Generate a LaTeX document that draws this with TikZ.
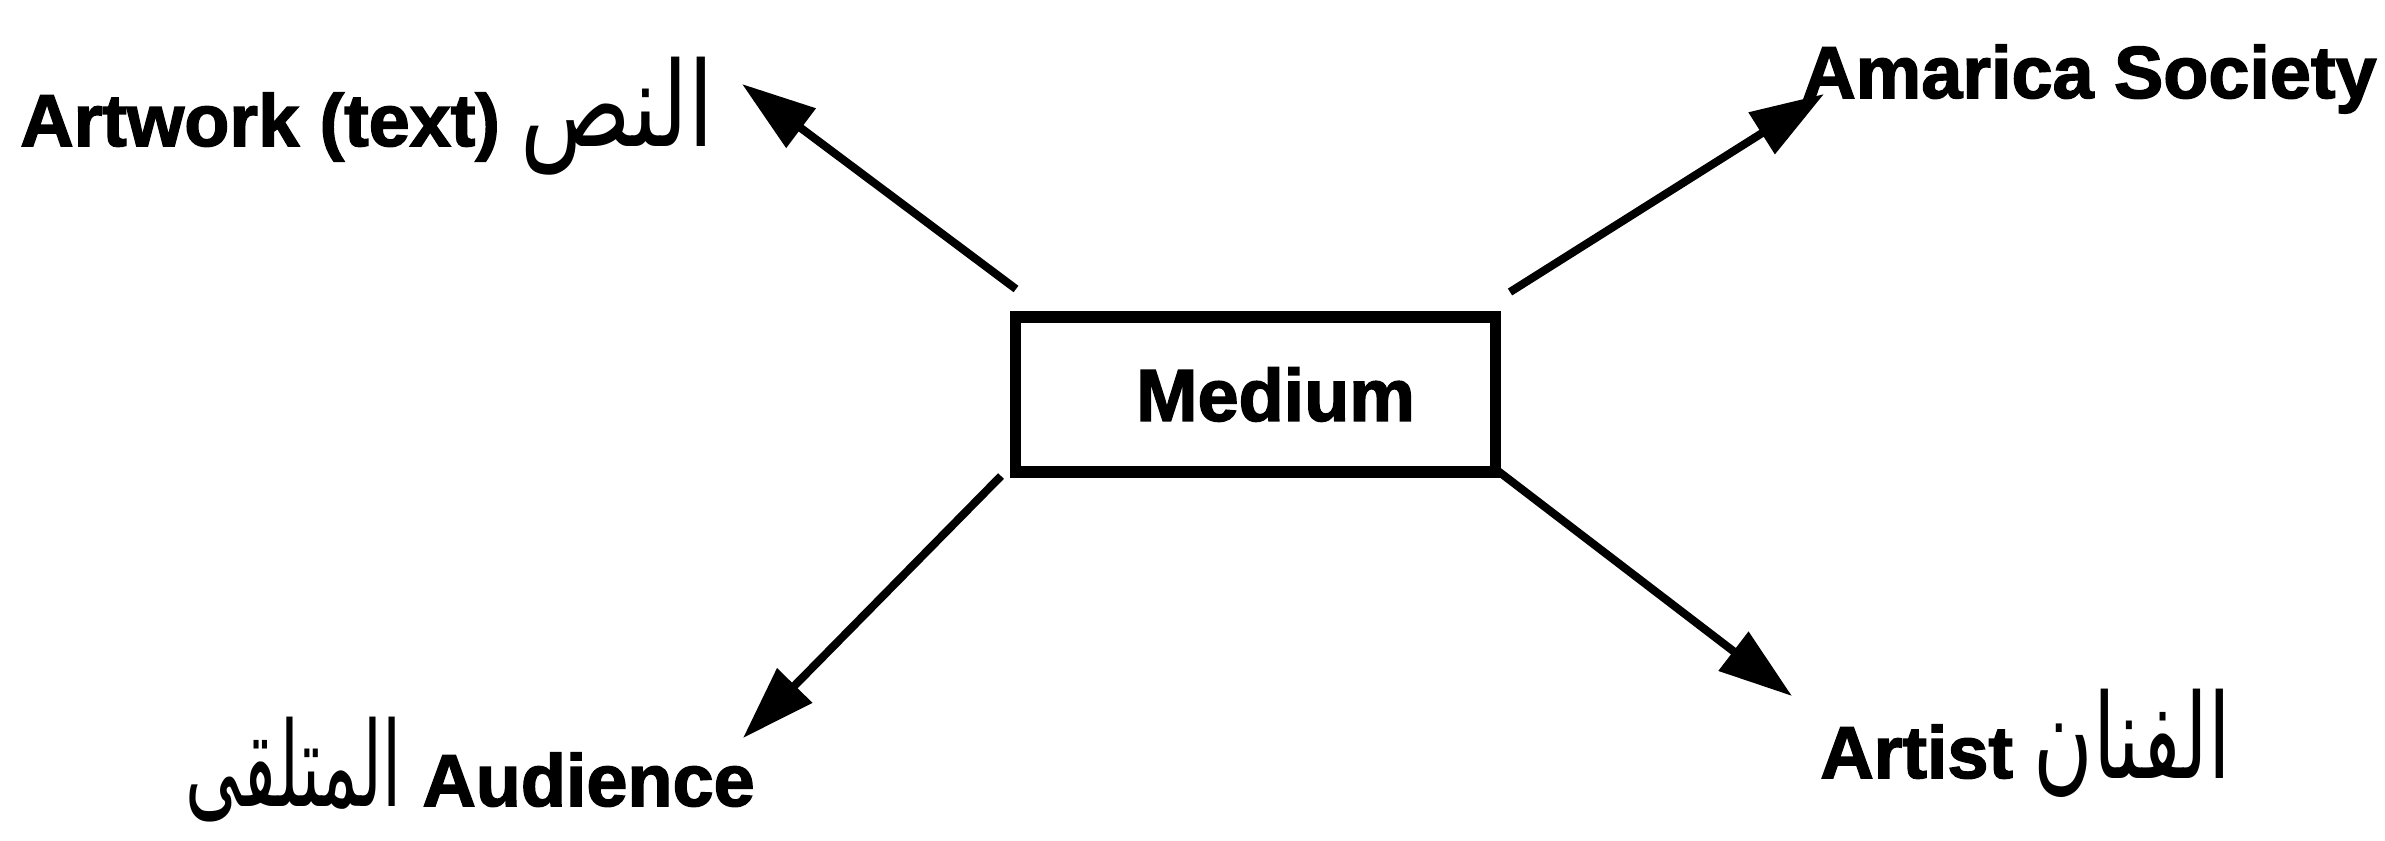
\documentclass[tikz,border=0pt]{standalone}
\usepackage{graphicx}
\usepackage{fontspec}
\setmainfont{Liberation Sans}[BoldFeatures={FakeBold=2}]
\newfontfamily\arabicfont[Script=Arabic,Scale=1.1]{DejaVu Sans}
\TeXXeTstate=1
\usetikzlibrary{arrows.meta}
\tikzset{
  lbl/.style={inner sep=0pt, font=\fontsize{42}{48}\selectfont\bfseries},
  boxnode/.style={draw, line width=6.5pt, minimum width=9.6cm, minimum height=3.1cm, inner sep=0pt, font=\fontsize{42}{48}\selectfont\bfseries},
  arr/.style={line width=4.6pt, -{Triangle[length=42pt,width=27pt]}}
}
\newcommand{\ar}[2]{{\arabicfont\mdseries\scalebox{#1}[1.45]{\beginR #2\endR}}}
\begin{document}
\begin{tikzpicture}[x=0.02cm,y=-0.02cm]
\useasboundingbox (0,0) rectangle (2385,840);
\node[boxnode] (medium) at (1255.5,394.5) {\hspace*{0.8cm}Medium};
\node[lbl, anchor=base west] (artwork) at (20,146) {Artwork (text) \ar{1.13}{النص}};
\node[lbl, anchor=base east] (society) at (2377,98) {Amarica Society};
\node[lbl, anchor=base east] (audience) at (755,806) {\ar{0.85}{المتلقى} Audience};
\node[lbl, anchor=base west] (artist) at (1820,778) {Artist \ar{1.0}{الفنان}};
\coordinate (tlA) at (1016,289); \coordinate (tlB) at (742,84);
\coordinate (trA) at (1510,292); \coordinate (trB) at (1824,94);
\coordinate (blA) at (1001,476); \coordinate (blB) at (743,738);
\coordinate (brA) at (1498,471); \coordinate (brB) at (1792,696);
\draw[arr] (tlA) -- (tlB);
\draw[arr] (trA) -- (trB);
\draw[arr] (blA) -- (blB);
\draw[arr] (brA) -- (brB);
\end{tikzpicture}
\end{document}
